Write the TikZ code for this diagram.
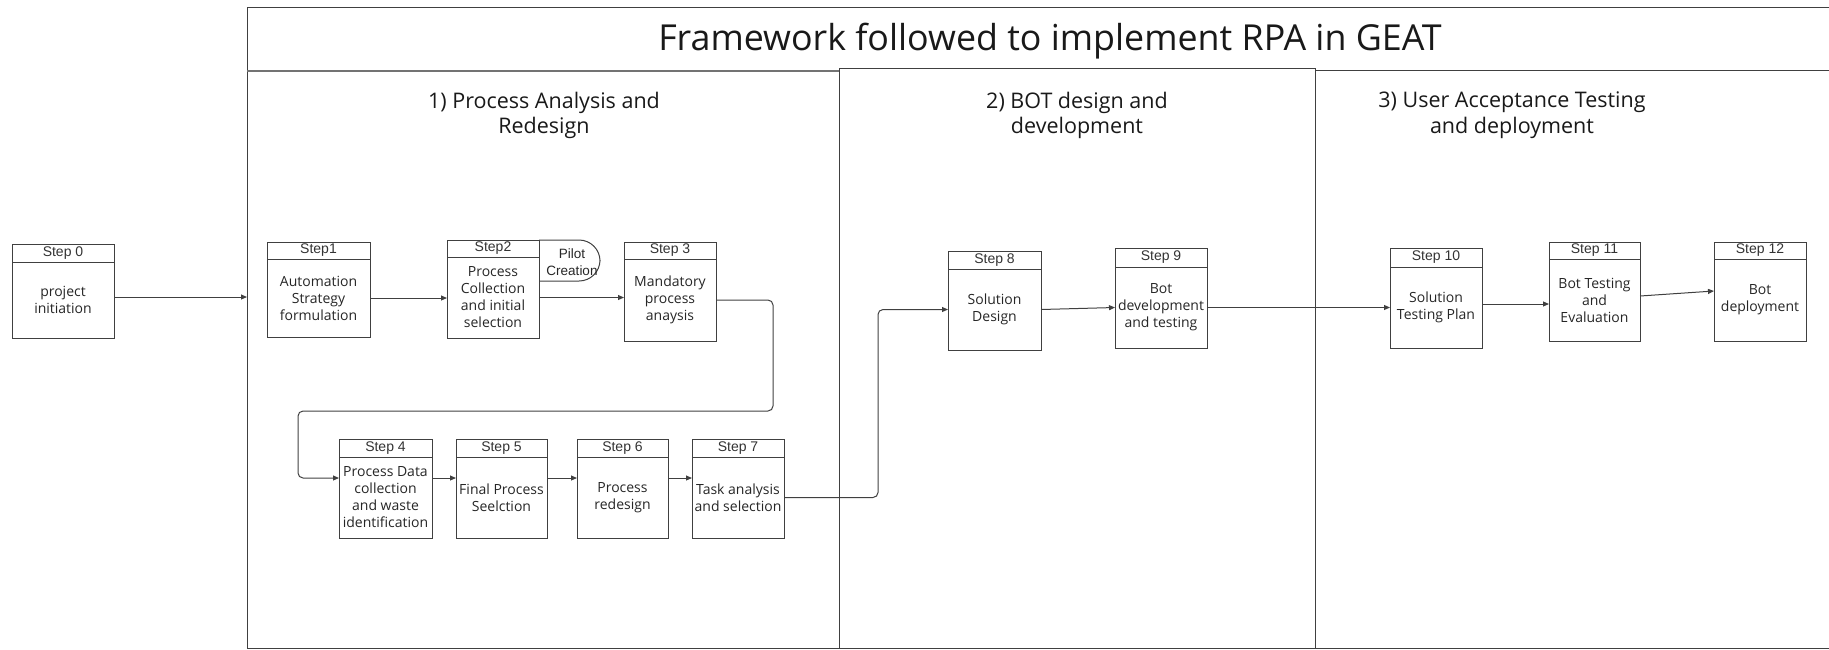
\documentclass[tikz,border=0pt]{standalone}
\usepackage{fontspec}
\setmainfont{Open Sans}
\newfontfamily\hdrfont{Liberation Sans}
\usetikzlibrary{arrows.meta}

\tikzset{
  ln/.style={draw=black!75, line width=1pt},
  arr/.style={ln, -{Triangle[length=6pt,width=5pt]}, rounded corners=5pt},
  hdr/.style={ln, inner sep=0pt, outer sep=0pt, text=black!80,
    font=\hdrfont\fontsize{14}{16}\selectfont},
  bdy/.style={ln, inner sep=0pt, outer sep=0pt, align=center, text=black!85,
    font=\fontsize{14}{17}\selectfont},
  sect/.style={align=center, text=black!90, font=\fontsize{21.5}{25.7}\selectfont},
}

% #1 name, #2 left, #3 top, #4 right, #5 header bottom, #6 bottom, #7 header, #8 body
\newcommand\mkstep[8]{%
  \node[hdr, anchor=north west, minimum width={(#4-#2)*1pt},
        minimum height={(#5-#3)*1pt}] (#1h) at (#2,#3) {#7};
  \node[bdy, anchor=north west, minimum width={(#4-#2)*1pt},
        minimum height={(#6-#5)*1pt}] (#1) at (#2,#5) {#8};
}

\begin{document}
\begin{tikzpicture}[x=1pt, y=-1pt]
\useasboundingbox (0,0) rectangle (1829,649);

% outer frame, title band and the three phase columns
\draw[ln] (1829,7) -- (247,7) -- (247,648) -- (1829,648);
\draw[ln, draw=black!55, line width=1.5pt] (247,71) -- (839,71);
\draw[ln] (839,648) -- (839,68) -- (1315,68) -- (1315,648);
\draw[ln] (1315,70) -- (1829,70);
\coordinate (fin) at (247,297);

\node[font=\fontsize{35.8}{40}\selectfont, text=black!90] (title) at (1050,41.5)
  {Framework followed to implement RPA in GEAT};

\node[sect] (ph1) at (544,115.5) {1) Process Analysis and\\Redesign};
\node[sect] (ph2) at (1077,115.5) {2) BOT design and\\development};
\node[sect] (ph3) at (1512,115.5) {3) User Acceptance Testing\\and deployment};

% steps
\mkstep{s0}{12}{244}{114}{262}{338}{Step 0}{project\\initiation}
\mkstep{s1}{267}{242}{370}{259}{337}{Step1}{Automation\\Strategy\\formulation}
\mkstep{s2}{447}{240}{539}{257}{338}{Step2}{Process\\Collection\\and initial\\selection}
\mkstep{s3}{624}{242}{716}{259}{341}{Step 3}{Mandatory\\process\\anaysis}
\mkstep{s4}{339}{439}{432}{457}{538}{Step 4}{Process Data\\collection\\and waste\\identification}
\mkstep{s5}{456}{439}{547}{457}{538}{Step 5}{Final Process\\Seelction}
\mkstep{s6}{577}{439}{668}{457}{538}{Step 6}{Process\\redesign}
\mkstep{s7}{692}{439}{784}{457}{538}{Step 7}{Task analysis\\and selection}
\mkstep{s8}{948}{251}{1041}{269}{350}{Step 8}{Solution\\Design}
\mkstep{s9}{1115}{248}{1207}{267}{348}{Step 9}{Bot\\development\\and testing}
\mkstep{s10}{1390}{248}{1482}{267}{348}{Step 10}{Solution\\Testing Plan}
\mkstep{s11}{1549}{242}{1640}{259}{341}{Step 11}{Bot Testing\\and\\Evaluation}
\mkstep{s12}{1714}{242}{1806}{259}{341}{Step 12}{Bot\\deployment}

% pilot creation tab on step 2
\draw[ln, rounded corners=21pt] (s2h.north east) -- (600,240) -- (600,281) -- (539,281);
\node[font=\hdrfont\fontsize{13.5}{17}\selectfont, align=center, text=black!85]
  (pilot) at (572,262) {Pilot\\Creation};

% connectors
\draw[arr] ([yshift=3pt]s0.east) -- ([yshift=3pt]s0.east -| fin);
\draw[arr] (s1.east) -- (s1.east -| s2.west);
\draw[arr] (s2.east) -- (s2.east -| s3.west);
\draw[arr] (s3.east) -- (773,300) -- (773,411) -- (298,411) -- (298,478)
  -- ([yshift=19.5pt]s4.west);
\draw[arr] ([yshift=19.5pt]s4.east) -- ([yshift=19.5pt]s5.west);
\draw[arr] ([yshift=19.5pt]s5.east) -- ([yshift=19.5pt]s6.west);
\draw[arr] ([yshift=19.5pt]s6.east) -- ([yshift=19.5pt]s7.west);
\draw[arr] (s7.east) -- (878,497.5) -- (878,309.5) -- (s8.west);
\draw[arr] (s8.east) -- (s9.west);
\draw[arr] (s9.east) -- (s10.west);
\draw[arr] ([yshift=3.5pt]s10.east) -- ([yshift=3.5pt]s10.east -| s11.west);
\draw[arr] ([yshift=4pt]s11.east) -- ([yshift=9pt]s12.west);
\end{tikzpicture}
\end{document}
